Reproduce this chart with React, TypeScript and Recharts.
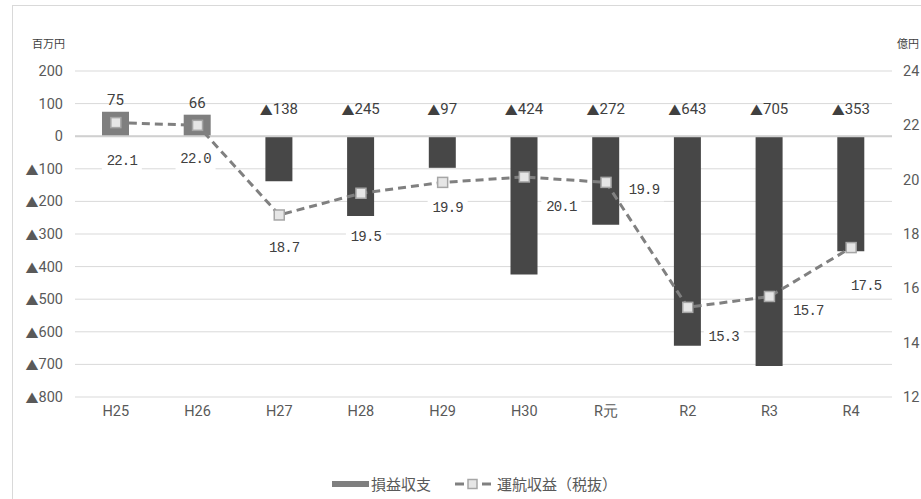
import { ComposedChart, Bar, Line, XAxis, YAxis, CartesianGrid, Cell, ReferenceLine } from "recharts";

const years = ["H25", "H26", "H27", "H28", "H29", "H30", "R元", "R2", "R3", "R4"];
// 損益収支（百万円）
const profit = [75, 66, -138, -245, -97, -424, -272, -643, -705, -353];
// 運航収益（税抜、億円）
const revenue = [22.1, 22.0, 18.7, 19.5, 19.9, 20.1, 19.9, 15.3, 15.7, 17.5];
const leftTicks = [200, 100, 0, -100, -200, -300, -400, -500, -600, -700, -800];
const rightTicks = [12, 14, 16, 18, 20, 22, 24];

// where each revenue label sits relative to its point
const revLabelShift = [
  [6, 38], [-2, 34], [5, 33], [5, 44], [5, 26],
  [37, 30], [38, 8], [36, 30], [39, 15], [15, 38],
];

const data = years.map((year, i) => ({ year, profit: profit[i], revenue: revenue[i] }));

const tickFont = '"Liberation Sans Narrow", Roboto, sans-serif';
const monoFont = '"Liberation Mono", "DejaVu Sans Mono", monospace';
const cjkFont = '"Noto Sans CJK JP", sans-serif';
const textColor = "#595959";

// negative numbers are written with a leading ▲
const Sankaku = ({ v }: { v: number }) =>
  v < 0 ? (
    <>
      <tspan fontFamily={cjkFont} fontSize={13}>▲</tspan>
      <tspan>{Math.abs(v)}</tspan>
    </>
  ) : (
    <tspan>{v}</tspan>
  );

const LeftTick = (props: any) => {
  const { x, y, payload } = props;
  return (
    <text x={x} y={y} textAnchor="end" dominantBaseline="central"
      fontFamily={tickFont} fontSize={14.5} fill={textColor}>
      <Sankaku v={payload.value} />
    </text>
  );
};

const ProfitLabel = (props: any) => {
  const { x, y, width, height, value, index } = props;
  const top = Math.min(y, y + height);
  const ly = value >= 0 ? top - 12 : top - 27;
  return (
    <text key={`pl-${index}`} x={x + width / 2} y={ly} textAnchor="middle" dominantBaseline="central"
      fontFamily={tickFont} fontSize={15} fill="#404040">
      <Sankaku v={value} />
    </text>
  );
};

const RevenueLabel = (props: any) => {
  const { x, y, value, index } = props;
  const [dx, dy] = revLabelShift[index] || [0, 30];
  const cx = x + dx;
  const cy = y + dy;
  return (
    <g key={`rl-${index}`}>
      <rect x={cx - 20} y={cy - 11} width={40} height={22} fill="#ffffff" />
      <text x={cx} y={cy} textAnchor="middle" dominantBaseline="central"
        fontFamily={monoFont} fontSize={14} letterSpacing={-0.8} fill="#404040">
        {value.toFixed(1)}
      </text>
    </g>
  );
};

const SquareDot = (props: any) => {
  const { cx, cy, index } = props;
  return (
    <rect key={`dot-${index}`} x={cx - 5} y={cy - 5} width={10} height={10}
      fill="#e6e6e6" stroke="#a6a6a6" strokeWidth={1.5} />
  );
};

export default function App() {
  return (
    <div style={{ position: "absolute", left: 0, top: 0, width: 921, height: 499, background: "#ffffff", overflow: "hidden" }}>
      <div style={{ position: "absolute", left: 12, top: 5, width: 940, height: 520, border: "1px solid #d9d9d9" }} />
      <div style={{ position: "absolute", left: 32, top: 35, fontFamily: cjkFont, fontSize: 11, color: "#404040" }}>百万円</div>
      <div style={{ position: "absolute", left: 897, top: 35, fontFamily: cjkFont, fontSize: 11, color: "#404040", whiteSpace: "nowrap" }}>億円</div>
      <div style={{ position: "absolute", left: 0, top: 0 }}>
        <ComposedChart width={921} height={499} data={data} margin={{ top: 71, right: 0, bottom: 72, left: 8 }}>
          <CartesianGrid yAxisId="left" vertical={false} stroke="#d9d9d9" />
          <XAxis dataKey="year" axisLine={false} tickLine={false} tickSize={0} tickMargin={9} height={30}
            tick={{ fontFamily: tickFont, fontSize: 14.5, fill: textColor }} />
          <YAxis yAxisId="left" domain={[-800, 200]} ticks={leftTicks} interval={0} width={67}
            axisLine={false} tickLine={false} tickSize={0} tickMargin={12} tick={LeftTick} />
          <YAxis yAxisId="right" orientation="right" domain={[12, 24]} ticks={rightTicks} interval={0} width={29}
            axisLine={false} tickLine={false} tickSize={0} tickMargin={11}
            tick={{ fontFamily: tickFont, fontSize: 14.5, fill: textColor, textAnchor: "start" }} />
          <ReferenceLine yAxisId="left" y={0} stroke="#d0d0d0" strokeWidth={2} />
          <Bar yAxisId="left" dataKey="profit" barSize={27} isAnimationActive={false} label={ProfitLabel}>
            {data.map((d, i) => (
              <Cell key={`c-${i}`} fill={d.profit >= 0 ? "#7f7f7f" : "#474747"} />
            ))}
          </Bar>
          <Line yAxisId="right" dataKey="revenue" stroke="#808080" strokeWidth={3} strokeDasharray="8 5"
            dot={SquareDot} activeDot={false} isAnimationActive={false} label={RevenueLabel} />
        </ComposedChart>
      </div>
      <div style={{ position: "absolute", left: 0, top: 473, width: 921, height: 22, fontFamily: cjkFont, fontSize: 15, color: textColor }}>
        <div style={{ position: "absolute", left: 332, top: 8, width: 37, height: 6, background: "#7f7f7f" }} />
        <div style={{ position: "absolute", left: 371, top: 0, lineHeight: "22px" }}>損益収支</div>
        <svg style={{ position: "absolute", left: 455, top: 3 }} width={36} height={16}>
          <line x1={0} y1={8} x2={9} y2={8} stroke="#808080" strokeWidth={3} />
          <line x1={27} y1={8} x2={36} y2={8} stroke="#808080" strokeWidth={3} />
          <rect x={13} y={3.5} width={9} height={9} fill="#e6e6e6" stroke="#a6a6a6" strokeWidth={1.5} />
        </svg>
        <div style={{ position: "absolute", left: 497, top: 0, lineHeight: "22px" }}>運航収益（税抜）</div>
      </div>
    </div>
  );
}
